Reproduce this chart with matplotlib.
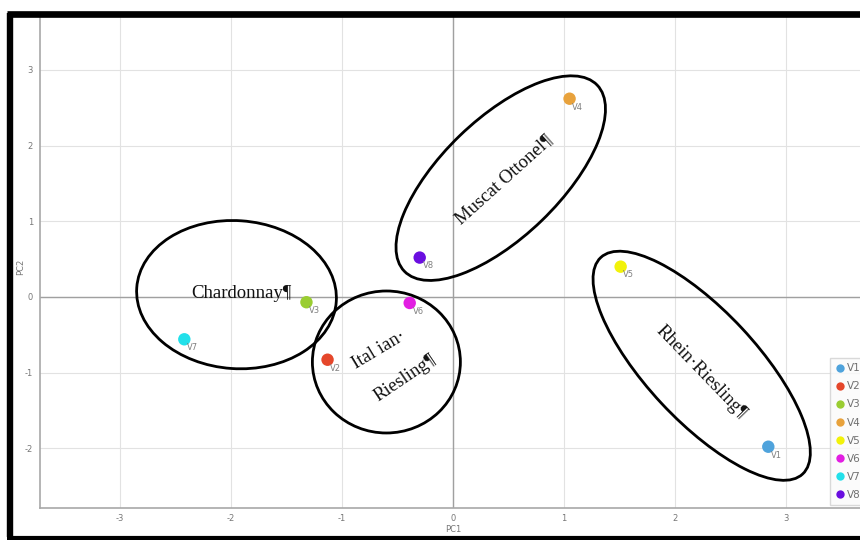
import matplotlib.pyplot as plt
import matplotlib.transforms as mtransforms
from matplotlib.patches import Ellipse
from matplotlib.lines import Line2D

plt.rcParams['axes.unicode_minus'] = False

# sample scores on the first two components
names = ['V1', 'V2', 'V3', 'V4', 'V5', 'V6', 'V7', 'V8']
pc1 = [2.84, -1.13, -1.32, 1.05, 1.51, -0.39, -2.42, -0.30]
pc2 = [-1.98, -0.83, -0.07, 2.62, 0.40, -0.08, -0.56, 0.52]
colors = ['#4fa3dc', '#e5472b', '#9acd32', '#e8a23c', '#f2f20a', '#e21ee2', '#22e0ea', '#6a0ee0']

x_ticks = [-3, -2, -1, 0, 1, 2, 3]
y_ticks = [-2, -1, 0, 1, 2, 3]

# group annotations: centre (data), size in pixels, angle
groups = ['Chardonnay', 'Italian Riesling', 'Muscat Ottonel', 'Rhein Riesling']
grp_cx = [-1.95, -0.60, 0.43, 2.24]
grp_cy = [0.03, -0.86, 1.57, -0.91]
grp_w = [200, 148, 268, 296]
grp_h = [148, 142, 118, 110]
grp_ang = [-4, 0, 44, -47]

fig = plt.figure(figsize=(8.6, 5.4), dpi=100)
ax = fig.add_axes([40 / 860, 32 / 540, 826 / 860, 491 / 540])
ax.set_xlim(-3.72, 3.72)
ax.set_ylim(-2.79, 3.70)

ax.set_xticks(x_ticks)
ax.set_yticks(y_ticks)
ax.tick_params(axis='x', length=0, labelsize=6, labelcolor='#777777', pad=4)
ax.tick_params(axis='y', length=0, labelsize=6, labelcolor='#777777', pad=5)
ax.grid(True, color='#e2e2e2', lw=0.8)
ax.axvline(0, color='#a0a0a0', lw=1.0, zorder=1)
ax.axhline(0, color='#a0a0a0', lw=1.0, zorder=1)
for s in ['top', 'right']:
    ax.spines[s].set_visible(False)
for s in ['left', 'bottom']:
    ax.spines[s].set_color('#a8a8a8')
    ax.spines[s].set_linewidth(1.2)
ax.set_axisbelow(True)

# axis titles placed by hand (screenshot is cropped tightly)
fig.text(453 / 860, 1 - 530 / 540, 'PC1', fontsize=6, color='#777777', ha='center', va='center')
fig.text(21 / 860, 1 - 267 / 540, 'PC2', fontsize=6, color='#777777', ha='center', va='center',
         rotation=90)

for i in range(len(names)):
    ax.scatter(pc1[i], pc2[i], s=80, color=colors[i], zorder=4, edgecolors='none')
    ax.annotate(names[i], (pc1[i], pc2[i]), xytext=(2, -6), textcoords='offset points',
                fontsize=6, color='#808080', va='center', ha='left', zorder=5)

# ellipses drawn in pixel units around data centres
for i in range(len(groups)):
    tr = fig.dpi_scale_trans + mtransforms.ScaledTranslation(grp_cx[i], grp_cy[i], ax.transData)
    e = Ellipse((0, 0), grp_w[i] / 100, grp_h[i] / 100, angle=grp_ang[i],
                fill=False, ec='black', lw=2.0, transform=tr, zorder=3)
    ax.add_patch(e)

serif = dict(family='Liberation Serif', color='#111111', fontsize=13.5, zorder=6)
ax.text(-1.91, 0.05, 'Chardonnay¶', ha='center', va='center', **serif)
ax.text(-0.67, -0.70, 'Ital ian·', ha='center', va='center', rotation=31, **serif)
ax.text(-0.43, -1.07, 'Riesling¶', ha='center', va='center', rotation=34, **serif)
ax.text(0.46, 1.55, 'Muscat Ottonel¶', ha='center', va='center', rotation=42, **serif)
ax.text(2.23, -0.99, 'Rhein·Riesling¶', ha='center', va='center', rotation=-46, **serif)

handles = [Line2D([], [], ls='none', marker='o', ms=6, mfc=c, mec='none') for c in colors]
fig.legend(handles, names, loc='upper left', bbox_to_anchor=(830 / 860, 182 / 540),
           bbox_transform=fig.transFigure, fontsize=7.5, labelspacing=0.78,
           handletextpad=0.1, handlelength=1.0, borderaxespad=0, borderpad=0.5,
           frameon=True, fancybox=False, edgecolor='#d0d0d0', facecolor='#fafafa',
           labelcolor='#707070')

# thick black frame of the screenshot
fig.add_artist(Line2D([10 / 860, 10 / 860], [3 / 540, 527 / 540], color='black', lw=4.6,
                      transform=fig.transFigure, solid_capstyle='butt'))
fig.add_artist(Line2D([7 / 860, 1.0], [526.5 / 540, 526.5 / 540], color='black', lw=4.8,
                      transform=fig.transFigure, solid_capstyle='butt'))
fig.add_artist(Line2D([7 / 860, 1.0], [2.0 / 540, 2.0 / 540], color='black', lw=3.0,
                      transform=fig.transFigure, solid_capstyle='butt'))

fig.savefig('out.png', dpi=100)
